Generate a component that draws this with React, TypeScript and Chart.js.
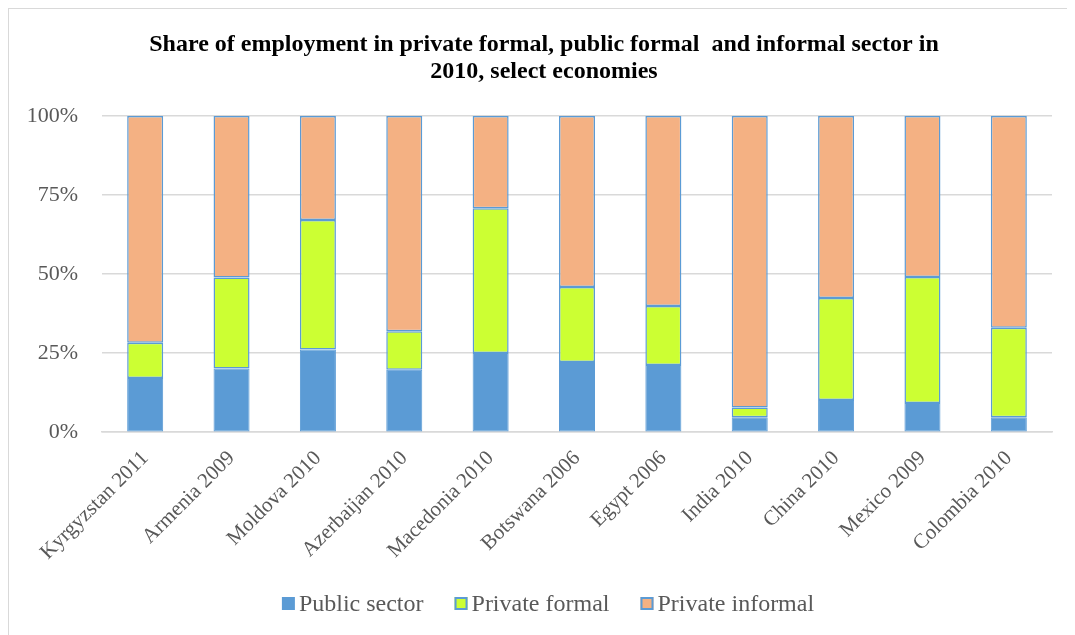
import React, { useEffect, useRef } from "react";
import { Chart, registerables } from "chart.js";

Chart.register(...registerables);

const categories = [
  "Kyrgyzstan 2011",
  "Armenia 2009",
  "Moldova 2010",
  "Azerbaijan 2010",
  "Macedonia 2010",
  "Botswana 2006",
  "Egypt 2006",
  "India 2010",
  "China 2010",
  "Mexico 2009",
  "Colombia 2010",
];

const publicSector = [17.1, 20.1, 26.1, 19.7, 25.0, 22.2, 21.2, 4.7, 10.2, 9.2, 4.7];
const privateFormal = [11.2, 28.8, 41.0, 12.2, 45.8, 23.7, 18.7, 3.1, 32.2, 39.9, 28.3];
const privateInformal = [71.7, 51.1, 32.9, 68.1, 29.2, 54.1, 60.1, 92.2, 57.6, 50.9, 67.0];

const yTickLabels = ["0%", "25%", "50%", "75%", "100%"];

const titleLines = [
  "Share of employment in private formal, public formal  and informal sector in",
  "2010, select economies",
];

const FONT = "'Times New Roman', 'Liberation Serif', serif";

const customLegend = {
  id: "customLegend",
  afterLayout(chart: any) {
    if (chart.titleBlock) chart.titleBlock.left += 9;
  },
  afterDraw(chart: any) {
    const ctx = chart.ctx as CanvasRenderingContext2D;
    const sets = chart.data.datasets;
    const box = 13;
    const gap = 4;
    const itemGap = 31;
    ctx.save();
    ctx.font = `24px ${FONT}`;
    const widths = sets.map((d: any) => ctx.measureText(d.label).width);
    const total =
      widths.reduce((a: number, b: number) => a + b, 0) +
      sets.length * (box + gap) +
      (sets.length - 1) * itemGap;
    let x = chart.width / 2 - total / 2 + 6;
    const cy = 594.5;
    sets.forEach((d: any, i: number) => {
      ctx.fillStyle = d.backgroundColor;
      ctx.fillRect(x, cy - box / 2, box, box);
      if (i > 0) {
        ctx.strokeStyle = d.borderColor;
        ctx.lineWidth = 2;
        ctx.strokeRect(x + 1, cy - box / 2 + 1, box - 2, box - 2);
      }
      ctx.fillStyle = "#595959";
      ctx.textBaseline = "middle";
      ctx.textAlign = "left";
      ctx.fillText(d.label, x + box + gap, cy + 1);
      x += box + gap + widths[i] + itemGap;
    });
    ctx.restore();
  },
};

export default function App() {
  const canvasRef = useRef<HTMLCanvasElement | null>(null);

  useEffect(() => {
    const canvas = canvasRef.current;
    if (!canvas) return;
    const chart = new Chart(canvas, {
      type: "bar",
      data: {
        labels: categories,
        datasets: [
          {
            label: "Public sector",
            data: publicSector,
            backgroundColor: "#5B9BD5",
            borderColor: "#5B9BD5",
            borderWidth: 1,
            borderSkipped: false,
          },
          {
            label: "Private formal",
            data: privateFormal,
            backgroundColor: "#CCFF33",
            borderColor: "#5B9BD5",
            borderWidth: 1.5,
            borderSkipped: false,
          },
          {
            label: "Private informal",
            data: privateInformal,
            backgroundColor: "#F4B183",
            borderColor: "#5B9BD5",
            borderWidth: 1.5,
            borderSkipped: false,
          },
        ],
      },
      options: {
        animation: false,
        responsive: false,
        maintainAspectRatio: false,
        layout: { padding: { left: 18, right: 23, top: 0, bottom: 64 } },
        datasets: {
          bar: { categoryPercentage: 1, barPercentage: 0.417 },
        },
        scales: {
          x: {
            stacked: true,
            grid: { display: false },
            border: { display: true, color: "#D9D9D9", width: 1.5 },
            afterFit: (scale: any) => {
              scale.paddingLeft = 0;
              scale.paddingRight = 0;
            },
            ticks: {
              minRotation: 45,
              maxRotation: 45,
              color: "#595959",
              font: { family: FONT, size: 21 },
              padding: 6,
            },
          },
          y: {
            stacked: true,
            min: 0,
            max: 100,
            grid: { color: "#D9D9D9", lineWidth: 1.5, drawTicks: false },
            border: { display: false },
            afterFit: (scale: any) => {
              scale.width = 75;
            },
            ticks: {
              stepSize: 25,
              color: "#595959",
              font: { family: FONT, size: 22 },
              padding: 24,
              callback: (v: any) => yTickLabels[Math.round(Number(v) / 25)],
            },
          },
        },
        plugins: {
          title: {
            display: true,
            text: titleLines,
            color: "#000000",
            font: { family: FONT, size: 24, weight: "bold", lineHeight: 1.125 },
            padding: { top: 22.5, bottom: 30.5 },
          },
          legend: { display: false },
          tooltip: { enabled: false },
        },
      },
      plugins: [customLegend],
    });
    return () => chart.destroy();
  }, []);

  return (
    <div
      style={{
        width: 1067,
        height: 627,
        borderTop: "1px solid #D9D9D9",
        borderLeft: "1px solid #D9D9D9",
        boxSizing: "border-box",
        background: "#FFFFFF",
        overflow: "hidden",
      }}
    >
      <canvas ref={canvasRef} width={1066} height={626} style={{ display: "block" }} />
    </div>
  );
}
